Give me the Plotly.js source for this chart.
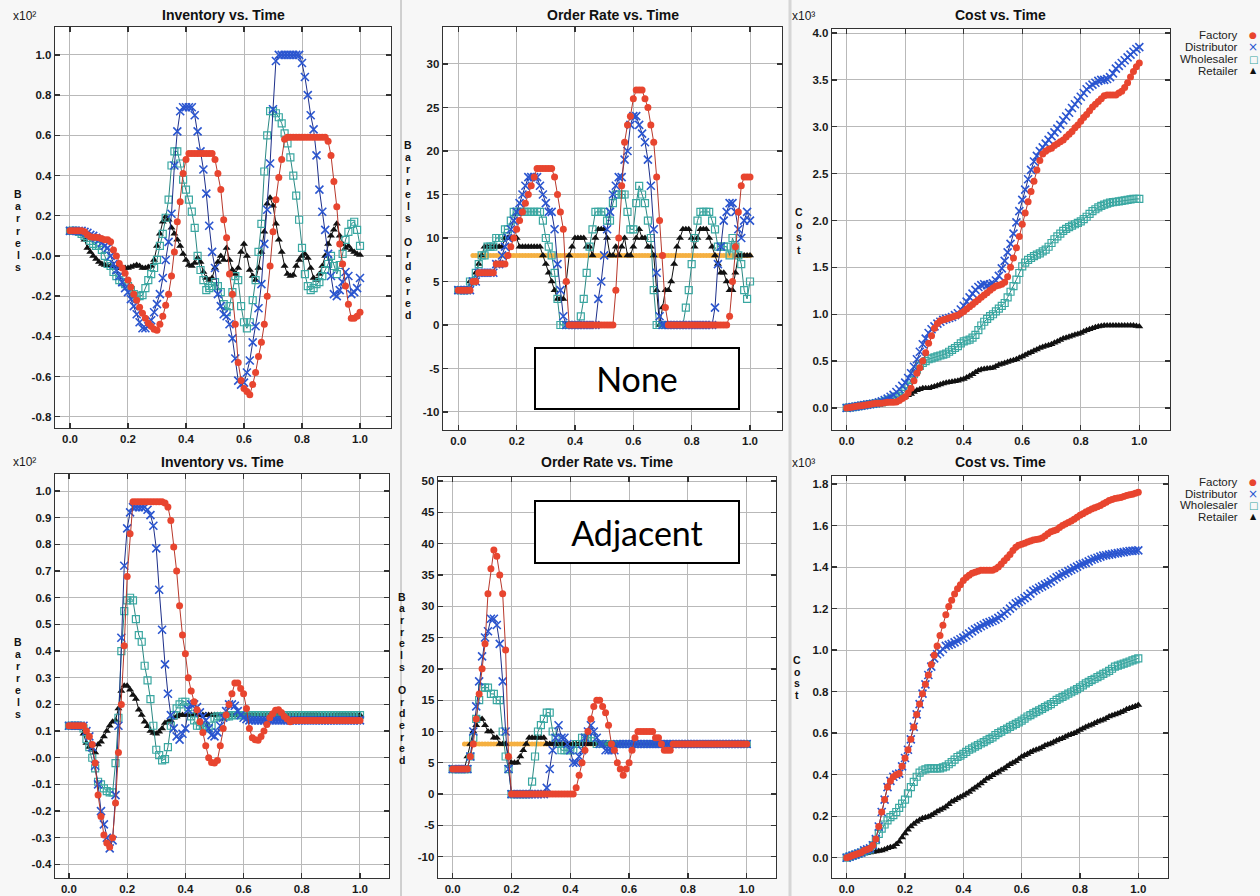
<!DOCTYPE html>
<html>
<head>
<meta charset="utf-8">
<script src="https://cdn.plot.ly/plotly-3.0.1.min.js"></script>
<style>
html,body{margin:0;padding:0;background:#f7f7f7;}
#chart{width:1260px;height:896px;}
</style>
</head>
<body>
<div id="chart"></div>
<script>
// ---------------- DATA ----------------
const time = [0,0.01,0.02,0.03,0.04,0.05,0.06,0.07,0.08,0.09,
0.10,0.11,0.12,0.13,0.14,0.15,0.16,0.17,0.18,0.19,
0.20,0.21,0.22,0.23,0.24,0.25,0.26,0.27,0.28,0.29,
0.30,0.31,0.32,0.33,0.34,0.35,0.36,0.37,0.38,0.39,
0.40,0.41,0.42,0.43,0.44,0.45,0.46,0.47,0.48,0.49,
0.50,0.51,0.52,0.53,0.54,0.55,0.56,0.57,0.58,0.59,
0.60,0.61,0.62,0.63,0.64,0.65,0.66,0.67,0.68,0.69,
0.70,0.71,0.72,0.73,0.74,0.75,0.76,0.77,0.78,0.79,
0.80,0.81,0.82,0.83,0.84,0.85,0.86,0.87,0.88,0.89,
0.90,0.91,0.92,0.93,0.94,0.95,0.96,0.97,0.98,0.99,1.00];

const seriesNames = ['Factory','Distributor','Wholesaler','Retailer'];
const panelTitles = ['Inventory vs. Time','Order Rate vs. Time','Cost vs. Time'];
const scenarioLabels = ['None','Adjacent'];
const axisLabels = ['Barrels','Barrels Ordered','Cost'];
const exponentLabels = ['x10²','x10³'];

const xTickVals = [0,0.2,0.4,0.6,0.8,1.0];
const xTickText = ['0.0','0.2','0.4','0.6','0.8','1.0'];
const invNoneTickVals = [-0.8,-0.6,-0.4,-0.2,0,0.2,0.4,0.6,0.8,1.0];
const invNoneTickText = ['-0.8','-0.6','-0.4','-0.2','-0.0','0.2','0.4','0.6','0.8','1.0'];
const orderNoneTickVals = [-10,-5,0,5,10,15,20,25,30];
const orderNoneTickText = ['-10','-5','0','5','10','15','20','25','30'];
const costNoneTickVals = [0,0.5,1.0,1.5,2.0,2.5,3.0,3.5,4.0];
const costNoneTickText = ['0.0','0.5','1.0','1.5','2.0','2.5','3.0','3.5','4.0'];
const invAdjTickVals = [-0.4,-0.3,-0.2,-0.1,0,0.1,0.2,0.3,0.4,0.5,0.6,0.7,0.8,0.9,1.0];
const invAdjTickText = ['-0.4','-0.3','-0.2','-0.1','-0.0','0.1','0.2','0.3','0.4','0.5','0.6','0.7','0.8','0.9','1.0'];
const orderAdjTickVals = [-10,-5,0,5,10,15,20,25,30,35,40,45,50];
const orderAdjTickText = ['-10','-5','0','5','10','15','20','25','30','35','40','45','50'];
const costAdjTickVals = [0,0.2,0.4,0.6,0.8,1.0,1.2,1.4,1.6,1.8];
const costAdjTickText = ['0.0','0.2','0.4','0.6','0.8','1.0','1.2','1.4','1.6','1.8'];

// Inventory, no sharing (x10^2 barrels)
const invNoneFactory = [.125,.125,.125,.125,.125,.12,.105,.095,.093,.093,
.09,.085,.08,.08,.07,.03,0,-.037,-.06,-.086,
-.12,-.155,-.19,-.22,-.255,-.285,-.31,-.335,-.35,-.365,
-.37,-.34,-.30,-.245,-.19,-.10,.02,.17,.27,.41,
.48,.51,.51,.51,.51,.51,.51,.51,.51,.51,
.48,.41,.33,.18,.09,-.09,-.19,-.34,-.53,-.62,
-.66,-.675,-.69,-.64,-.58,-.50,-.43,-.34,-.20,-.05,
.12,.28,.39,.48,.58,.59,.59,.59,.59,.59,
.59,.59,.59,.59,.59,.59,.59,.59,.59,.57,
.50,.37,.245,.06,-.04,-.15,-.24,-.31,-.31,-.30,-.28];
const invNoneDistributor = [.125,.125,.125,.125,.125,.12,.115,.105,.10,.09,
.08,.065,.05,.04,0,-.04,-.07,-.10,-.13,-.16,
-.18,-.215,-.25,-.29,-.33,-.36,-.36,-.35,-.32,-.28,
-.24,-.19,-.11,-.02,.07,.21,.45,.62,.72,.74,
.74,.74,.74,.70,.62,.52,.43,.31,.15,.02,
-.06,-.19,-.25,-.29,-.30,-.34,-.41,-.51,-.62,-.64,
-.63,-.58,-.52,-.43,-.35,-.26,-.14,.06,.23,.46,
.73,.97,1,1,1,1,1,1,1,1,
.96,.89,.80,.70,.63,.50,.33,.22,.13,.01,
-.10,-.19,-.20,-.17,-.13,-.08,-.10,-.19,-.18,-.16,-.11];
const invNoneWholesaler = [.125,.125,.125,.12,.11,.10,.09,.075,.06,.05,
.05,.03,0,-.04,-.05,-.08,-.10,-.12,-.13,-.14,
-.15,-.17,-.19,-.20,-.20,-.195,-.16,-.12,-.09,-.06,
-.02,.05,.11,.19,.28,.45,.52,.52,.46,.38,
.33,.28,.22,.14,0,-.07,-.12,-.17,-.16,-.15,
-.13,-.15,-.18,-.24,-.28,-.25,-.18,-.10,-.12,-.25,
-.33,-.36,-.33,-.22,-.12,.02,.16,.42,.60,.72,
.72,.71,.69,.66,.61,.56,.49,.40,.30,.18,
.04,-.09,-.15,-.17,-.16,-.14,-.13,-.10,-.07,-.04,
0,-.05,-.09,-.045,.01,.08,.12,.16,.17,.13,.05];
const invNoneRetailer = [.125,.125,.125,.12,.11,.08,.04,.02,0,-.015,
-.03,-.04,-.045,-.05,-.05,-.055,-.06,-.06,-.06,-.06,
-.06,-.055,-.05,-.045,-.05,-.06,-.06,-.055,-.05,-.02,
.05,.11,.17,.195,.18,.14,.11,.08,.05,.01,
-.02,-.045,-.05,-.035,-.01,-.03,-.08,-.11,-.12,-.11,
-.06,-.03,0,-.02,.04,-.02,-.07,-.09,-.06,.02,
.06,0,-.07,-.10,-.12,-.06,.02,.12,.26,.29,
.25,.16,.08,.02,-.05,-.09,-.10,-.095,-.05,-.02,
0,.01,-.01,-.06,-.11,-.12,-.09,-.05,0,.06,
.10,.13,.16,.10,.06,.04,.05,.03,.02,.01,.005];

// Order rate, no sharing (barrels ordered)
const orderNoneFactory = [4,4,4,4,4,5,5,6,6,6,
6,6,6,7,7,7,7,8,9,10,
11,12,13,14,15,16,17,18,18,18,
18,18,18,17,15,13,11,5,0,0,
0,0,0,0,0,0,0,0,0,0,
0,0,0,0,4,10,16,21,23,24,
26,27,27,27,26,25,23,21,17,12,
8,2,0,0,0,0,0,0,0,0,
0,0,0,0,0,0,0,0,0,0,
0,0,0,1,5,9,13,16,17,17,17];
const orderNoneDistributor = [4,4,4,4,4,5,5,6,6,6,
6,6,6,7,7,8,9,10,11,12,
13,14,15,16,17,17,17,17,16,15,
14,13,13,11,7,4,1,0,0,0,
0,0,0,0,0,0,0,0,3,5,
8,11,13,15,16,17,17,19,20,23,
24,24,23,22,21,19,16,11,6,1,
0,0,0,0,0,0,0,0,0,0,
0,0,0,0,0,0,0,0,2,7,
9,12,13,14,14,13,11,10,12,13,12];
const orderNoneWholesaler = [4,4,4,4,5,5,6,7,8,8,
9,9,9,10,10,10,11,11,12,13,
13,13,13,13,13,13,13,13,13,12,
10,9,8,6,3,0,0,0,0,0,
0,0,1,3,6,9,11,13,13,13,
13,12,12,14,15,15,15,15,13,11,
11,14,16,15,14,12,10,4,0,0,
0,0,0,0,0,0,0,0,2,4,
7,10,12,13,13,13,13,12,11,9,
9,9,9,8,10,9,8,7,4,3,5];
const orderNoneRetailer = [4,4,4,4,5,5,6,7,8,9,
9,9,9,9,9,9,10,10,10,10,
10,9,9,9,9,9,9,9,9,8,
7,6,5,4,3,3,3,5,8,9,
10,10,10,10,9,9,8,10,11,11,
11,10,8,8,9,8,9,10,8,8,
9,10,11,10,10,9,9,8,4,0,
2,4,4,5,7,9,10,11,11,11,
10,9,10,11,11,11,10,9,8,7,
6,6,5,4,4,6,8,8,8,8,8];
const orderNoneDemand = [null,null,null,null,null,8,8,8,8,8,
8,8,8,8,8,8,8,8,8,8, 8,8,8,8,8,8,8,8,8,8, 8,8,8,8,8,8,8,8,8,8,
8,8,8,8,8,8,8,8,8,8, 8,8,8,8,8,8,8,8,8,8, 8,8,8,8,8,8,8,8,8,8,
8,8,8,8,8,8,8,8,8,8, 8,8,8,8,8,8,8,8,8,8, 8,8,8,8,8,8,8,8,8,8,8];

// Cost, no sharing (x10^3)
const costNoneFactory = [0,.005,.01,.015,.02,.025,.03,.035,.04,.045,
.05,.05,.05,.055,.06,.06,.06,.065,.08,.10,
.12,.16,.21,.29,.37,.43,.50,.59,.69,.77,
.85,.90,.93,.94,.95,.96,.97,.98,.99,1.01,
1.03,1.055,1.08,1.105,1.13,1.155,1.18,1.205,1.23,1.255,
1.28,1.30,1.31,1.32,1.34,1.40,1.50,1.60,1.71,1.83,
1.96,2.08,2.20,2.31,2.42,2.54,2.64,2.71,2.74,2.76,
2.77,2.80,2.82,2.84,2.86,2.89,2.92,2.95,2.99,3.02,
3.06,3.10,3.13,3.17,3.21,3.24,3.27,3.30,3.33,3.34,
3.34,3.34,3.34,3.36,3.38,3.42,3.47,3.53,3.59,3.64,3.68];
const costNoneDistributor = [0,.005,.01,.015,.02,.025,.03,.035,.04,.045,
.05,.06,.07,.085,.10,.12,.14,.17,.20,.235,
.27,.32,.37,.44,.52,.60,.68,.74,.80,.84,
.87,.90,.92,.94,.95,.96,.97,.99,1.01,1.05,
1.09,1.135,1.18,1.22,1.26,1.29,1.31,1.32,1.31,1.32,
1.33,1.36,1.41,1.49,1.57,1.66,1.75,1.86,1.98,2.10,
2.22,2.33,2.44,2.54,2.63,2.69,2.74,2.78,2.82,2.86,
2.90,2.94,2.98,3.02,3.07,3.11,3.15,3.20,3.24,3.28,
3.32,3.36,3.40,3.43,3.45,3.47,3.49,3.50,3.50,3.51,
3.53,3.57,3.62,3.65,3.68,3.71,3.74,3.77,3.80,3.83,3.85];
const costNoneWholesaler = [0,.005,.01,.015,.02,.025,.03,.035,.04,.045,
.05,.055,.06,.07,.08,.095,.11,.12,.13,.15,
.18,.24,.30,.36,.41,.45,.48,.50,.52,.53,
.54,.55,.56,.57,.58,.60,.62,.64,.66,.69,
.71,.72,.73,.75,.78,.83,.88,.92,.95,.98,
1.0,1.03,1.06,1.09,1.12,1.18,1.24,1.30,1.37,1.44,
1.51,1.55,1.58,1.60,1.62,1.635,1.65,1.67,1.69,1.72,
1.76,1.80,1.83,1.86,1.89,1.91,1.93,1.945,1.96,1.975,
1.99,2.015,2.04,2.07,2.10,2.12,2.14,2.155,2.17,2.18,
2.19,2.195,2.20,2.205,2.21,2.215,2.22,2.225,2.23,2.23,2.23];
const costNoneRetailer = [0,.005,.01,.01,.01,.015,.02,.025,.03,.035,
.04,.045,.05,.055,.06,.065,.07,.08,.09,.105,
.12,.135,.15,.17,.19,.20,.21,.21,.21,.22,
.23,.24,.25,.26,.27,.275,.28,.285,.29,.30,
.31,.325,.34,.36,.38,.40,.41,.415,.42,.425,
.43,.445,.46,.47,.48,.49,.50,.51,.52,.535,
.55,.565,.58,.595,.61,.625,.64,.65,.66,.67,
.68,.695,.71,.725,.74,.75,.76,.77,.78,.79,
.80,.815,.83,.84,.85,.86,.87,.875,.88,.88,
.88,.88,.88,.88,.88,.88,.88,.88,.88,.875,.87];

// Inventory, adjacent sharing (x10^2 barrels)
const invAdjFactory = [.12,.12,.12,.12,.12,.12,.10,.08,.05,-.02,
-.14,-.22,-.29,-.32,-.335,-.30,-.17,.02,.20,.42,
.68,.84,.96,.96,.96,.96,.96,.96,.96,.96,
.96,.96,.96,.955,.94,.89,.79,.70,.57,.46,
.39,.30,.25,.21,.18,.135,.095,.045,0,-.018,
-.02,-.01,.045,.11,.16,.20,.24,.28,.28,.26,
.24,.185,.11,.075,.067,.066,.08,.10,.125,.15,
.165,.178,.18,.17,.155,.145,.135,.14,.14,.14,
.14,.14,.14,.14,.14,.14,.14,.14,.14,.14,
.14,.14,.14,.14,.14,.14,.14,.14,.14,.14,.14];
const invAdjDistributor = [.12,.12,.12,.12,.12,.12,.10,.08,.04,-.03,
-.10,-.20,-.25,-.30,-.34,-.31,-.14,.12,.45,.72,
.86,.92,.94,.94,.94,.94,.94,.93,.91,.87,
.785,.63,.48,.35,.24,.16,.11,.08,.068,.09,
.11,.18,.20,.20,.19,.17,.155,.14,.11,.085,
.08,.095,.12,.15,.175,.20,.20,.195,.175,.16,
.15,.145,.14,.14,.14,.14,.14,.14,.14,.14,
.14,.14,.14,.14,.14,.14,.14,.14,.14,.14,
.14,.14,.14,.14,.14,.14,.14,.14,.14,.14,
.14,.14,.14,.14,.14,.14,.14,.14,.14,.14,.14];
const invAdjWholesaler = [.12,.12,.12,.12,.12,.11,.07,.04,0,-.04,
-.09,-.10,-.115,-.125,-.13,-.13,-.02,.15,.40,.55,
.59,.60,.59,.52,.46,.435,.345,.29,.22,.12,
.03,.01,-.01,-.005,.04,.12,.16,.185,.20,.21,
.21,.19,.155,.14,.12,.12,.12,.115,.11,.12,
.15,.155,.155,.155,.155,.155,.16,.16,.16,.16,
.16,.16,.16,.16,.16,.16,.16,.16,.16,.16,
.16,.16,.16,.16,.16,.16,.16,.16,.16,.16,
.16,.16,.16,.16,.16,.16,.16,.16,.16,.16,
.16,.16,.16,.16,.16,.16,.16,.16,.16,.16,.16];
const invAdjRetailer = [.12,.12,.12,.12,.12,.09,.055,.04,.03,.02,
.05,.06,.08,.10,.12,.135,.14,.185,.25,.27,
.27,.255,.235,.22,.18,.16,.135,.118,.10,.093,
.09,.097,.11,.13,.135,.14,.15,.155,.16,.16,
.16,.16,.16,.16,.16,.16,.16,.16,.16,.16,
.16,.16,.16,.16,.16,.16,.16,.16,.16,.16,
.16,.16,.16,.16,.16,.16,.16,.16,.16,.16,
.16,.16,.16,.16,.16,.16,.16,.16,.16,.16,
.16,.16,.16,.16,.16,.16,.16,.16,.16,.16,
.16,.16,.16,.16,.16,.16,.16,.16,.16,.16,.16];

// Order rate, adjacent sharing
const orderAdjFactory = [4,4,4,4,4,4,6,8,12,16,
20,24,32,36,39,38,35,32,23,6,
0,0,0,0,0,0,0,0,0,0,
0,0,0,0,0,0,0,0,0,0,
0,0,1,3,5,7,10,12,14,15,
15,14,13,11,8,7,5,4,3,4,
5,7,9,10,10,10,10,10,10,9,
9,8,7,7,7,8,8,8,8,8,
8,8,8,8,8,8,8,8,8,8,
8,8,8,8,8,8,8,8,8,8,8];
const orderAdjDistributor = [4,4,4,4,4,4,6,10,14,18,
22,25,26,28,28,27,24,18,10,4,
0,0,0,0,0,0,0,0,0,0,
0,0,1,4,7,9,11,9,9,8,
7,5,5,6,7,9,10,11,10,9,
8,8,7,7,7,7,8,8,8,8,
8,8,8,8,8,8,8,8,8,8,
8,8,8,8,8,8,8,8,8,8,
8,8,8,8,8,8,8,8,8,8,
8,8,8,8,8,8,8,8,8,8,8];
const orderAdjWholesaler = [4,4,4,4,4,4,6,9,12,15,
17,17,17,16,16,15,15,10,6,4,
0,0,0,0,0,0,0,2,6,10,
11,12,13,13,10,9,8,7,7,7,
7,7,8,8,9,9,9,9,9,8,
8,8,8,8,8,8,8,8,8,8,
8,8,8,8,8,8,8,8,8,8,
8,8,8,8,8,8,8,8,8,8,
8,8,8,8,8,8,8,8,8,8,
8,8,8,8,8,8,8,8,8,8,8];
const orderAdjRetailer = [4,4,4,4,4,6,8,10,11,12,
12,11,10,10,9,9,8,8,8,6,
5,5,5,6,7,8,9,9,9,9,
9,9,8,8,8,8,8,8,8,8,
8,8,8,8,8,8,8,8,8,8,
8,8,8,8,8,8,8,8,8,8,
8,8,8,8,8,8,8,8,8,8,
8,8,8,8,8,8,8,8,8,8,
8,8,8,8,8,8,8,8,8,8,
8,8,8,8,8,8,8,8,8,8,8];
const orderAdjDemand = [null,null,null,null,8,8,8,8,8,8,
8,8,8,8,8,8,8,8,8,8, 8,8,8,8,8,8,8,8,8,8, 8,8,8,8,8,8,8,8,8,8,
8,8,8,8,8,8,8,8,8,8, 8,8,8,8,8,8,8,8,8,8, 8,8,8,8,8,8,8,8,8,8,
8,8,8,8,8,8,8,8,8,8, 8,8,8,8,8,8,8,8,8,8, 8,8,8,8,8,8,8,8,8,8,8];

// Cost, adjacent sharing (x10^3)
const costAdjFactory = [0,.005,.01,.015,.02,.025,.035,.04,.045,.06,
.09,.15,.22,.28,.34,.37,.39,.40,.405,.44,
.48,.52,.57,.63,.69,.74,.79,.835,.88,.93,
.975,1.02,1.07,1.12,1.17,1.21,1.24,1.27,1.295,1.315,
1.335,1.35,1.36,1.37,1.375,1.38,1.385,1.385,1.385,1.385,
1.385,1.39,1.40,1.415,1.43,1.445,1.46,1.48,1.495,1.505,
1.51,1.515,1.52,1.525,1.53,1.533,1.535,1.54,1.55,1.56,
1.57,1.575,1.58,1.59,1.60,1.607,1.615,1.622,1.63,1.64,
1.65,1.657,1.665,1.672,1.68,1.685,1.69,1.697,1.705,1.712,
1.72,1.725,1.73,1.733,1.735,1.74,1.745,1.748,1.75,1.755,1.76];
const costAdjDistributor = [0,.005,.01,.015,.02,.025,.035,.04,.045,.06,
.09,.15,.22,.28,.34,.37,.39,.40,.405,.44,
.48,.52,.57,.63,.69,.74,.79,.835,.88,.92,
.96,.98,.99,1.005,1.02,1.025,1.03,1.037,1.045,1.052,
1.06,1.07,1.08,1.09,1.10,1.107,1.115,1.122,1.13,1.135,
1.14,1.147,1.155,1.165,1.175,1.187,1.20,1.212,1.225,1.232,
1.24,1.25,1.26,1.272,1.285,1.292,1.30,1.307,1.315,1.322,
1.33,1.34,1.35,1.357,1.365,1.372,1.38,1.387,1.395,1.402,
1.41,1.415,1.42,1.427,1.435,1.44,1.445,1.45,1.455,1.457,
1.46,1.462,1.465,1.467,1.47,1.472,1.475,1.477,1.478,1.479,1.48];
const costAdjWholesaler = [0,.005,.01,.015,.02,.025,.03,.035,.04,.06,
.085,.115,.14,.16,.18,.195,.205,.22,.24,.26,
.28,.31,.34,.365,.39,.41,.42,.425,.43,.43,
.43,.43,.43,.435,.44,.45,.46,.472,.485,.492,
.50,.51,.52,.527,.535,.542,.55,.557,.565,.572,
.58,.59,.60,.607,.615,.622,.63,.637,.645,.652,
.66,.67,.68,.687,.695,.702,.71,.717,.725,.732,
.74,.75,.76,.767,.775,.782,.79,.797,.805,.812,
.82,.83,.84,.847,.855,.862,.87,.877,.885,.892,
.90,.91,.92,.925,.93,.935,.94,.945,.95,.955,.96];
const costAdjRetailer = [0,.003,.005,.008,.01,.015,.02,.022,.025,.028,
.03,.032,.035,.04,.045,.05,.053,.065,.077,.097,
.117,.135,.15,.162,.173,.182,.19,.194,.197,.205,
.213,.222,.23,.237,.245,.257,.27,.277,.285,.292,
.30,.308,.317,.327,.337,.347,.357,.368,.38,.388,
.397,.405,.413,.422,.43,.44,.45,.457,.465,.475,
.486,.493,.50,.508,.515,.52,.525,.532,.54,.545,
.55,.557,.565,.57,.575,.582,.59,.595,.60,.607,
.615,.622,.63,.635,.64,.647,.655,.66,.665,.672,
.68,.685,.69,.695,.70,.707,.715,.72,.725,.73,.735];

// ---------------- STYLE / LAYOUT ----------------
const W = 1260, H = 896;
const px = v => v / W;
const py = v => 1 - v / H;
const FONT = 'Liberation Sans, Arial, Helvetica, sans-serif';

const styles = {
  Factory:    {line:{color:'#b8382b', width:1}, marker:{symbol:'circle', size:7, color:'#e8452f', line:{width:0}}},
  Distributor:{line:{color:'#1d2f8a', width:1}, marker:{symbol:'x-thin-open', size:8, color:'#2a55d0', line:{width:1.6, color:'#2a55d0'}}},
  Wholesaler: {line:{color:'#2a8883', width:1}, marker:{symbol:'square-open', size:7, color:'#3aa8a2', line:{width:1.2}}},
  Retailer:   {line:{color:'#111111', width:1}, marker:{symbol:'triangle-up', size:7, color:'#111111', line:{width:0}}},
  Demand:     {line:{color:'#f2b54a', width:3}, marker:{symbol:'circle', size:5, color:'#f5b041', line:{width:0}}}
};

const panels = [
  {frame:[55,391,27,428],  xr:[-0.0517,1.1069], yr:[-0.856,1.139], tv:invNoneTickVals, tt:invNoneTickText, title:panelTitles[0],
   ylab:axisLabels[0], ylx:18, yl0:194, yld:12.2, exp:exponentLabels[0], ex:24, ey:16,
   data:{Factory:invNoneFactory, Distributor:invNoneDistributor, Wholesaler:invNoneWholesaler, Retailer:invNoneRetailer}},
  {frame:[443,782,27,430], xr:[-0.0525,1.1097], yr:[-12.07,34.25], tv:orderNoneTickVals, tt:orderNoneTickText, title:panelTitles[1],
   ylab:axisLabels[1], ylx:408, yl0:145, yld:12.14,
   data:{Factory:orderNoneFactory, Distributor:orderNoneDistributor, Wholesaler:orderNoneWholesaler, Retailer:orderNoneRetailer, Demand:orderNoneDemand}},
  {frame:[832,1170,29,430],xr:[-0.0502,1.1049], yr:[-0.235,4.043], tv:costNoneTickVals, tt:costNoneTickText, title:panelTitles[2],
   ylab:axisLabels[2], ylx:799, yl0:212, yld:12.7, exp:exponentLabels[1], ex:804, ey:16,
   data:{Factory:costNoneFactory, Distributor:costNoneDistributor, Wholesaler:costNoneWholesaler, Retailer:costNoneRetailer}, legendY:[35,47,59,71]},
  {frame:[55,389,474,878], xr:[-0.048,1.0997], yr:[-0.451,1.064], tv:invAdjTickVals, tt:invAdjTickText, title:panelTitles[0],
   ylab:axisLabels[0], ylx:18, yl0:641.7, yld:12.1, exp:exponentLabels[0], ex:24, ey:462,
   data:{Factory:invAdjFactory, Distributor:invAdjDistributor, Wholesaler:invAdjWholesaler, Retailer:invAdjRetailer}},
  {frame:[438,776,477,878],xr:[-0.05,1.0997], yr:[-13.4,50.64], tv:orderAdjTickVals, tt:orderAdjTickText, title:panelTitles[1],
   ylab:axisLabels[1], ylx:402, yl0:596.7, yld:11.66,
   data:{Factory:orderAdjFactory, Distributor:orderAdjDistributor, Wholesaler:orderAdjWholesaler, Retailer:orderAdjRetailer, Demand:orderAdjDemand}},
  {frame:[832,1168,476,878],xr:[-0.0504,1.1019], yr:[-0.0978,1.8385], tv:costAdjTickVals, tt:costAdjTickText, title:panelTitles[2],
   ylab:axisLabels[2], ylx:797, yl0:660, yld:11.67, exp:exponentLabels[1], ex:803, ey:463,
   data:{Factory:costAdjFactory, Distributor:costAdjDistributor, Wholesaler:costAdjWholesaler, Retailer:costAdjRetailer}, legendY:[482,493.5,505,516.5]}
];

const drawOrder = ['Demand','Retailer','Wholesaler','Distributor','Factory'];
const traces = [];
const layout = {
  width:W, height:H, autosize:false,
  margin:{l:0,r:0,t:0,b:0,pad:0},
  paper_bgcolor:'#f7f7f7', plot_bgcolor:'#ffffff',
  showlegend:false,
  font:{family:FONT, color:'#222'},
  annotations:[], shapes:[]
};

const axisFont = {family:FONT, size:11.5, color:'#1a1a1a', weight:'bold'};

panels.forEach((p, i) => {
  const n = i + 1;
  const xa = 'xaxis' + (n > 1 ? n : ''), ya = 'yaxis' + (n > 1 ? n : '');
  const xr = 'x' + (n > 1 ? n : ''), yr = 'y' + (n > 1 ? n : '');
  const [l, r, t, b] = p.frame;
  const common = {showgrid:true, gridcolor:'#b9b9b9', gridwidth:1, zeroline:false, showline:true,
    linecolor:'#333', linewidth:1.3, mirror:'ticks', ticks:'inside', ticklen:5, tickwidth:1.3,
    tickcolor:'#333', tickfont:axisFont, tickmode:'array', fixedrange:true};
  layout[xa] = Object.assign({}, common, {domain:[px(l), px(r)], range:p.xr, anchor:yr,
    tickvals:xTickVals, ticktext:xTickText});
  layout[ya] = Object.assign({}, common, {domain:[py(b), py(t)], range:p.yr, anchor:xr,
    tickvals:p.tv, ticktext:p.tt});

  drawOrder.forEach(name => {
    if (!p.data[name]) return;
    const s = styles[name];
    traces.push({type:'scatter', mode:'lines+markers', x:time, y:p.data[name],
      xaxis:xr, yaxis:yr, name:name, line:s.line, marker:s.marker, connectgaps:false,
      hoverinfo:'skip', cliponaxis:true});
  });

  // title
  layout.annotations.push({xref:'paper', yref:'paper', x:px((l + r) / 2), y:py(i < 3 ? 15 : 462),
    text:'<b>' + p.title + '</b>', showarrow:false, xanchor:'center', yanchor:'middle',
    font:{family:FONT, size:14, color:'#111'}});
  // stacked y label: one letter per line
  p.ylab.split('').forEach((ch, k) => {
    if (ch === ' ') return;
    layout.annotations.push({xref:'paper', yref:'paper', x:px(p.ylx), y:py(p.yl0 + k * p.yld),
      text:ch, showarrow:false, xanchor:'center', yanchor:'middle',
      font:{family:FONT, size:10.5, color:'#111', weight:'bold'}});
  });
  // exponent
  if (p.exp) {
    layout.annotations.push({xref:'paper', yref:'paper', x:px(p.ex), y:py(p.ey),
      text:p.exp, showarrow:false, xanchor:'center', yanchor:'middle',
      font:{family:FONT, size:12, color:'#1a1a1a'}});
  }
  // legend (text right-aligned, symbol after)
  if (p.legendY) {
    const glyphs = {Factory:['●','#e8452f',9], Distributor:['×','#2a55d0',12], Wholesaler:['□','#3aa8a2',10], Retailer:['▲','#111',8]};
    seriesNames.forEach((nm, k) => {
      layout.annotations.push({xref:'paper', yref:'paper', x:px(1240), y:py(p.legendY[k]),
        text:nm, showarrow:false, xanchor:'right', yanchor:'middle',
        font:{family:FONT, size:11.5, color:'#222'}});
      layout.annotations.push({xref:'paper', yref:'paper', x:px(1253), y:py(p.legendY[k]),
        text:glyphs[nm][0], showarrow:false, xanchor:'center', yanchor:'middle',
        font:{family:'DejaVu Sans, sans-serif', size:glyphs[nm][2], color:glyphs[nm][1]}});
    });
  }
});

// scenario boxes
layout.annotations.push({xref:'paper', yref:'paper', x:px(637), y:py(378.5), text:scenarioLabels[0],
  showarrow:false, xanchor:'center', yanchor:'middle', bgcolor:'#ffffff', bordercolor:'#000',
  borderwidth:2, borderpad:1, width:200, height:57,
  font:{family:'Lato, Open Sans, sans-serif', size:34, color:'#000'}});
layout.annotations.push({xref:'paper', yref:'paper', x:px(637), y:py(532), text:scenarioLabels[1],
  showarrow:false, xanchor:'center', yanchor:'middle', bgcolor:'#ffffff', bordercolor:'#000',
  borderwidth:2, borderpad:1, width:200, height:58,
  font:{family:'Lato, Open Sans, sans-serif', size:34, color:'#000'}});

// window separators
layout.shapes.push({type:'line', xref:'paper', yref:'paper', x0:px(401), x1:px(401), y0:0, y1:1, line:{color:'#a8a8a8', width:1}});
layout.shapes.push({type:'line', xref:'paper', yref:'paper', x0:px(790), x1:px(790), y0:0, y1:1, line:{color:'#d6d6d6', width:3}});

Plotly.newPlot('chart', traces, layout, {staticPlot:true, displayModeBar:false});
</script>
</body>
</html>
